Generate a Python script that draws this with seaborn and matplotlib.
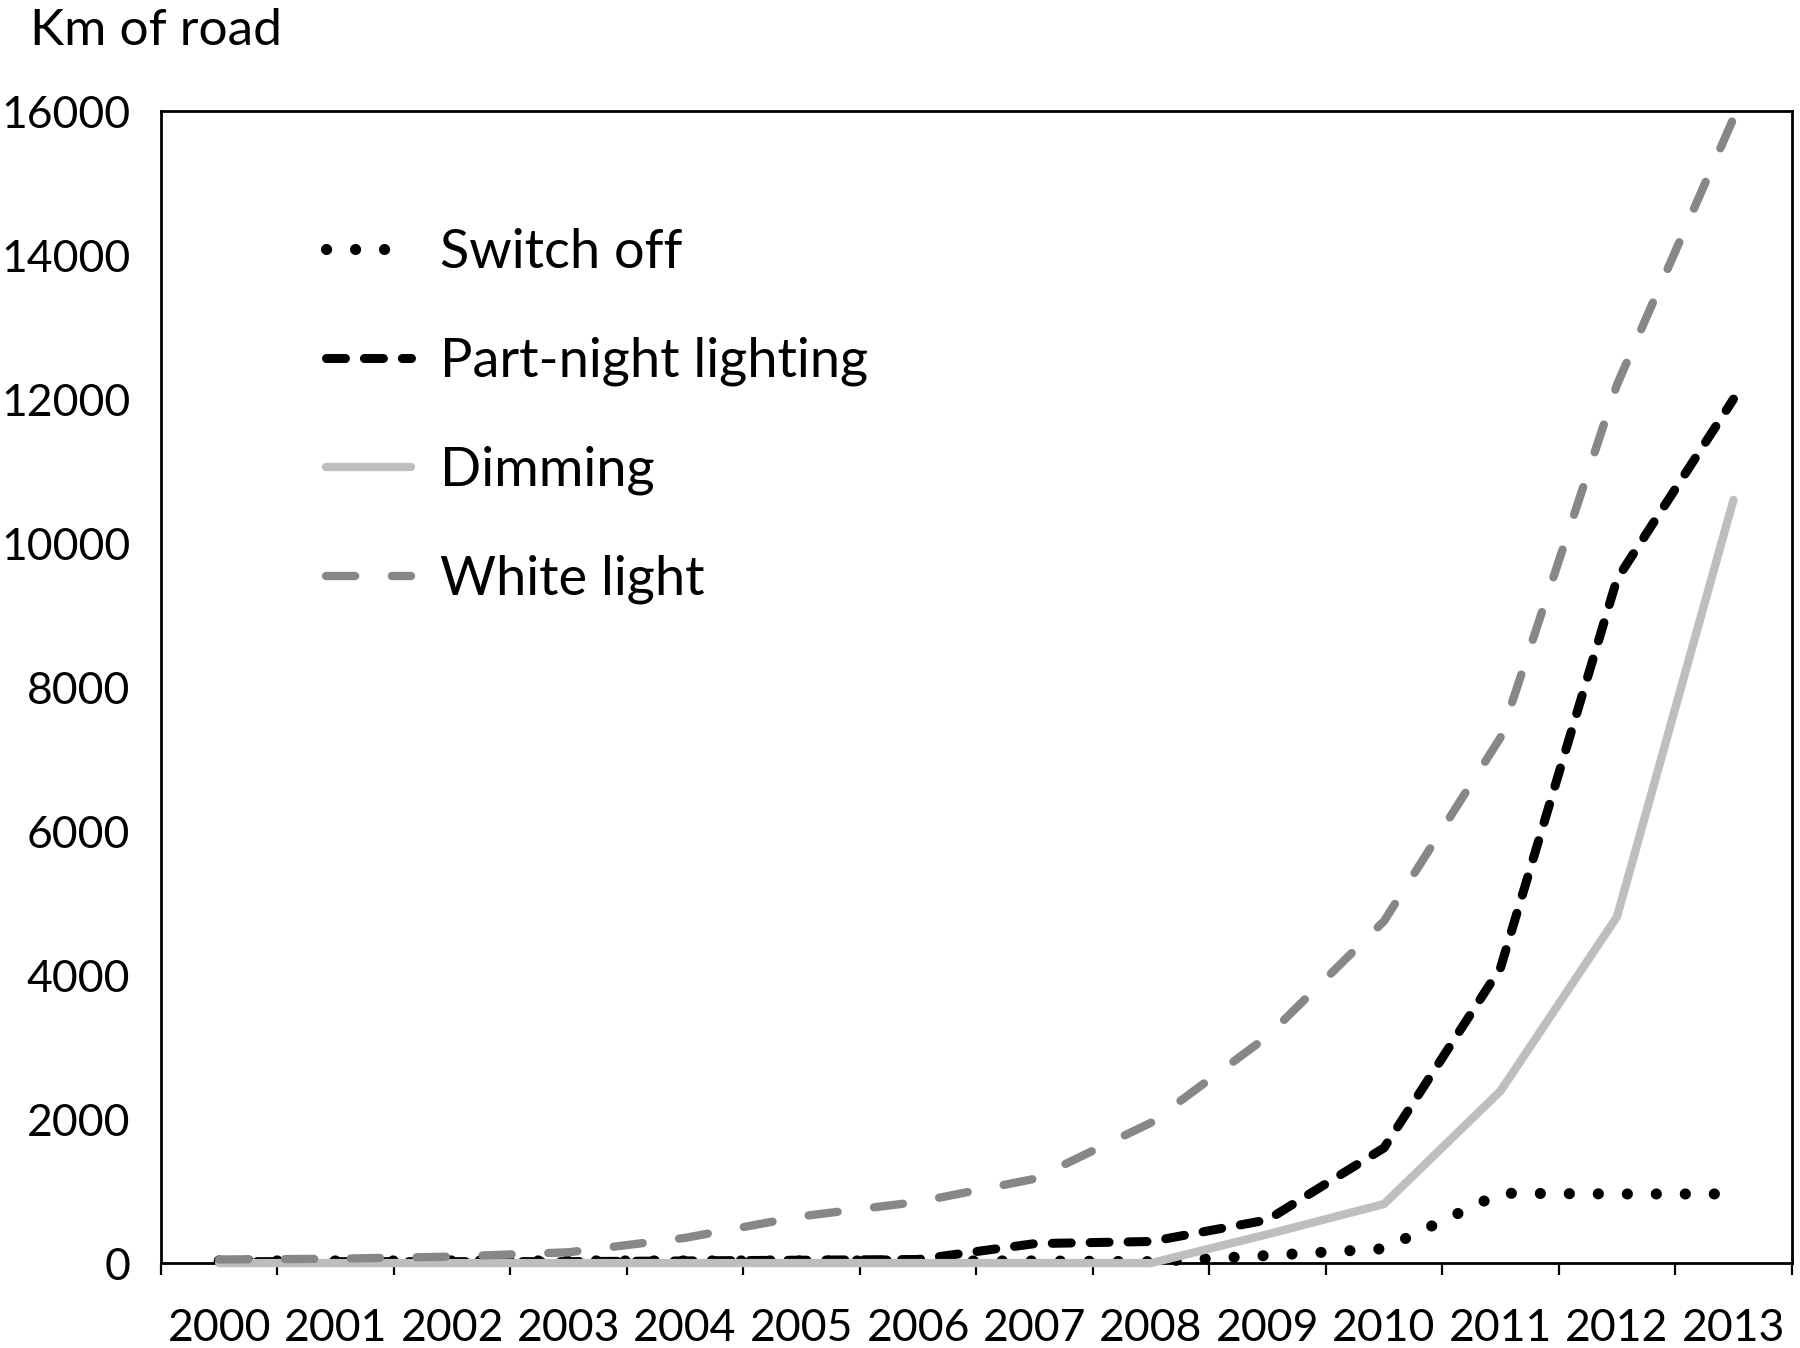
import matplotlib
matplotlib.use("Agg")
import matplotlib.pyplot as plt
import numpy as np
import seaborn as sns

# km of road per year
years = [2000, 2001, 2002, 2003, 2004, 2005, 2006, 2007, 2008, 2009, 2010, 2011, 2012, 2013]
switch_off = [30, 30, 30, 30, 30, 30, 30, 30, 20, 105, 200, 970, 960, 960]
part_night = [20, 20, 20, 20, 30, 40, 50, 270, 300, 600, 1600, 4100, 9500, 12000]
dimming = [0, 0, 0, 0, 0, 0, 0, 0, 0, 400, 820, 2390, 4810, 10600]
white_light = [50, 60, 90, 150, 350, 650, 850, 1170, 1950, 3150, 4750, 7300, 12200, 15900]

sns.set_style("white")
plt.rcParams['font.family'] = ['Lato', 'DejaVu Sans']
plt.rcParams['text.color'] = 'black'
plt.rcParams['xtick.color'] = 'black'
plt.rcParams['ytick.color'] = 'black'

fig = plt.figure(figsize=(18, 13.48), dpi=100)
ax = fig.add_axes([0.0894, 0.063, 0.906, 0.8546])

pos = np.arange(len(years))

# name, values, colour, width, dash pattern (None = solid)
styles = [
    ("Switch off", switch_off, "black", 8, (0.01, 2.6)),
    ("Part-night lighting", part_night, "black", 6.5, (2.1, 2.1)),
    ("Dimming", dimming, "#bebebe", 6, None),
    ("White light", white_light, "#878787", 6, (3.5, 4.4)),
]

for name, vals, col, lw, dash in styles:
    sns.lineplot(x=pos, y=vals, ax=ax, color=col, linewidth=lw, label=name,
                 zorder=3, clip_on=False)
    ln = ax.lines[-1]
    if dash is not None:
        ln.set_dashes(dash)
    ln.set_dash_capstyle("round")
    ln.set_solid_capstyle("round")

ax.set_ylim(0, 16000)
ax.set_yticks(range(0, 16001, 2000))
ax.set_xlim(-0.5, 13.5)
ax.set_xticks(pos, labels=[str(y) for y in years])
ax.set_xticks(np.arange(-0.5, 14, 1), minor=True)
ax.tick_params(axis="y", length=0, pad=22, labelsize=32)
ax.tick_params(axis="x", which="major", length=0, pad=32, labelsize=32)
ax.tick_params(axis="x", which="minor", length=8.5, width=1.6, direction="out",
               color="black", bottom=True)
ax.set_xlabel("")
ax.set_ylabel("")

for s in ax.spines.values():
    s.set_visible(True)
    s.set_color("black")
    s.set_linewidth(2)

handles, labels = ax.get_legend_handles_labels()
ax.legend(handles, labels, loc="upper left", bbox_to_anchor=(326 / 1800, 1 - 228 / 1348),
          bbox_transform=fig.transFigure, frameon=False, fontsize=39, borderpad=0,
          handlelength=1.57, handletextpad=0.53, labelspacing=1.1, borderaxespad=0)

fig.text(30 / 1800, 1 - 45 / 1348, "Km of road", fontsize=37, va="baseline", ha="left")

fig.savefig("out.png", dpi=100)
